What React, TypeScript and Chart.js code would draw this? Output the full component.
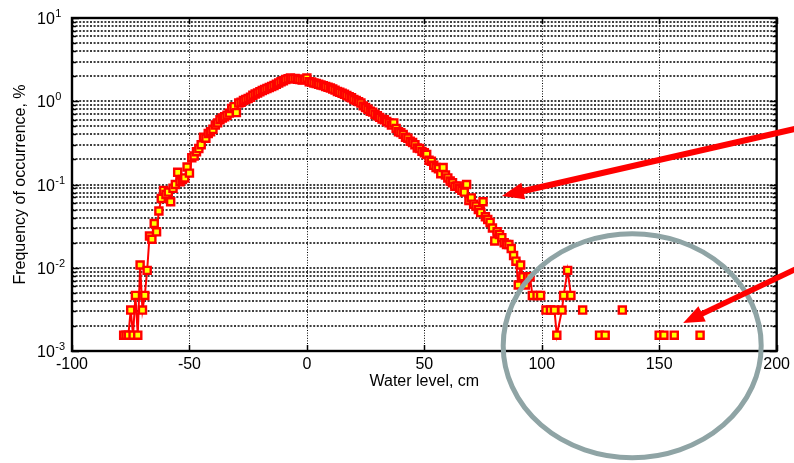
import React, { useEffect, useRef } from 'react';
import { Chart, registerables } from 'chart.js';

Chart.register(...registerables);

// ---- data (water level in cm, frequency of occurrence in %) ----
const waterLevel: number[] = [
  -78, -77, -76, -75, -74, -73, -72, -71, -70, -69, -68, -67, -66, -65, -64, -63, -62, -61, -60, -59,
  -58, -57, -56, -55, -54, -53, -52, -51, -50, -49, -48, -47, -46, -45, -44, -43, -42, -41, -40, -39,
  -38, -37, -36, -35, -34, -33, -32, -31, -30, -29, -28, -27, -26, -25, -24, -23, -22, -21, -20, -19,
  -18, -17, -16, -15, -14, -13, -12, -11, -10, -9, -8, -7, -6, -5, -4, -3, -2, -1, 0, 1,
  2, 3, 4, 5, 6, 7, 8, 9, 10, 11, 12, 13, 14, 15, 16, 17, 18, 19, 20, 21,
  22, 23, 24, 25, 26, 27, 28, 29, 30, 31, 32, 33, 34, 35, 36, 37, 38, 39, 40, 41,
  42, 43, 44, 45, 46, 47, 48, 49, 50, 51, 52, 53, 54, 55, 56, 57, 58, 59, 60, 61,
  62, 63, 64, 65, 66, 67, 68, 69, 70, 71, 72, 73, 74, 75, 76, 77, 78, 79, 80, 81,
  82, 83, 84, 85, 86, 87, 88, 89, 90, 91, 92, 93, 94, 95, 96, 98, 99.5,
  100.7, 101.8, 103.7, 105.4, 106.4, 108.6, 109.3, 111, 112.4,
  115, 117.4, 120, 124.6, 125.8, 127, 130, 134.3, 140, 150, 151, 152, 154, 156.4, 160, 167.4,
];

const frequency: (number | null)[] = [
  0.00155, 0.00155, 0.00155, 0.0031, 0.00155, 0.00465, 0.00155, 0.0108, 0.0031, 0.00465, 0.0093, 0.024, 0.022, 0.034, 0.027, 0.048, 0.068, 0.085, 0.076, 0.081,
  0.062, 0.09, 0.1, 0.14, 0.108, 0.115, 0.12, 0.162, 0.137, 0.21, 0.22, 0.248, 0.27, 0.3, 0.37, 0.36, 0.41, 0.43, 0.46, 0.52,
  0.55, 0.6, 0.63, 0.65, 0.68, 0.72, 0.82, 0.86, 0.73, 0.95, 0.97, 1.02, 1.05, 1.08, 1.12, 1.18, 1.22, 1.26, 1.3, 1.35,
  1.38, 1.42, 1.46, 1.5, 1.55, 1.6, 1.66, 1.72, 1.76, 1.82, 1.86, 1.9, 1.87, 1.88, 1.84, 1.82, 1.8, 1.82, 1.9, 1.72,
  1.7, 1.66, 1.63, 1.6, 1.57, 1.54, 1.5, 1.47, 1.44, 1.4, 1.36, 1.31, 1.28, 1.25, 1.21, 1.17, 1.13, 1.1, 1.05, 1.02,
  0.99, 0.95, 0.88, 0.84, 0.8, 0.76, 0.74, 0.7, 0.67, 0.64, 0.61, 0.6, 0.57, 0.55, 0.52, 0.55, 0.47, 0.43, 0.42, 0.4,
  0.37, 0.36, 0.33, 0.32, 0.3, 0.275, 0.27, 0.25, 0.24, 0.23, 0.195, 0.19, 0.17, 0.16, 0.155, 0.135, 0.16, 0.13, 0.12, 0.11,
  0.105, 0.095, 0.096, 0.09, 0.085, 0.081, 0.1, 0.064, 0.069, 0.058, 0.055, 0.05, 0.046, 0.062, 0.041, 0.038, 0.035, 0.03, 0.021, 0.027,
  0.025, 0.023, 0.02, 0.019, 0.019, 0.017, 0.014, 0.012, 0.0062, 0.0108, 0.0078, 0.0062, 0.0078, 0.0078, 0.00465, 0.00465, 0.00465,
  null, 0.0031, 0.0031, 0.0031, 0.00155, 0.0031, 0.00465, 0.0093, 0.00465,
  null, 0.0031, null, 0.00155, null, 0.00155, null, 0.0031, null, 0.00155, null, 0.00155, null, 0.00155, null, 0.00155,
];

const xTickValues = [-100, -50, 0, 50, 100, 150, 200];
const yDecadeExponents = [-3, -2, -1, 0, 1];
const yMinorMultipliers = [2, 3, 4, 5, 6, 7, 8, 9];
const xAxisTitle = 'Water level, cm';
const yAxisTitle = 'Frequency of occurrence, %';

// annotations, anchored in data coordinates
const arrowA = { tail: { x: 208.5, y: 0.471 }, tip: { x: 83.0, y: 0.0728 }, shaft: 6, headLen: 22, headWid: 17 };
const arrowB = { tail: { x: 208.5, y: 0.00975 }, tip: { x: 160.2, y: 0.00217 }, shaft: 5.5, headLen: 21, headWid: 17 };
const ring = { x: 138.5, y: 0.00116, rx: 129, ry: 112, width: 5, color: '#8fa4a5' };

const FONT = '"Liberation Sans", Arial, Helvetica, sans-serif';

function drawArrow(ctx: CanvasRenderingContext2D, x1: number, y1: number, x2: number, y2: number,
  shaft: number, headLen: number, headWid: number) {
  const dx = x2 - x1, dy = y2 - y1;
  const len = Math.hypot(dx, dy);
  const ux = dx / len, uy = dy / len;
  const nx = -uy, ny = ux;
  const bx = x2 - ux * headLen, by = y2 - uy * headLen;
  ctx.strokeStyle = '#ff0000';
  ctx.fillStyle = '#ff0000';
  ctx.lineWidth = shaft;
  ctx.lineCap = 'butt';
  ctx.setLineDash([]);
  ctx.beginPath();
  ctx.moveTo(x1, y1);
  ctx.lineTo(bx + ux * 1, by + uy * 1);
  ctx.stroke();
  ctx.beginPath();
  ctx.moveTo(x2, y2);
  ctx.lineTo(bx + nx * headWid / 2, by + ny * headWid / 2);
  ctx.lineTo(bx - nx * headWid / 2, by - ny * headWid / 2);
  ctx.closePath();
  ctx.fill();
}

const matlabLook = {
  id: 'matlabLook',
  beforeDatasetsDraw(chart: any) {
    const { ctx, chartArea: { left, right, top, bottom }, scales: { x, y } } = chart;
    ctx.save();
    // horizontal dotted grid (decades and minor)
    ctx.strokeStyle = '#000';
    ctx.lineWidth = 1.6;
    ctx.setLineDash([2, 1.6]);
    for (const e of yDecadeExponents) {
      const vals = [1, ...yMinorMultipliers].map((m) => m * Math.pow(10, e));
      for (const v of vals) {
        if (v <= y.min * 1.0001 || v >= y.max * 0.9999) continue;
        const py = Math.round(y.getPixelForValue(v));
        ctx.beginPath();
        ctx.moveTo(left, py);
        ctx.lineTo(right, py);
        ctx.stroke();
      }
    }
    // vertical dotted grid
    ctx.setLineDash([1, 1.6]);
    ctx.lineWidth = 1;
    ctx.strokeStyle = '#000';
    for (const v of xTickValues) {
      if (v <= x.min || v >= x.max) continue;
      const px = Math.round(x.getPixelForValue(v)) + 0.5;
      ctx.beginPath();
      ctx.moveTo(px, top);
      ctx.lineTo(px, bottom);
      ctx.stroke();
    }
    ctx.restore();
  },
  afterDatasetsDraw(chart: any) {
    const { ctx, chartArea: { left, right, top, bottom }, scales: { x, y } } = chart;
    ctx.save();
    ctx.setLineDash([]);
    ctx.strokeStyle = '#000';
    // inner tick marks
    ctx.lineWidth = 1.5;
    for (const v of xTickValues) {
      const px = Math.round(x.getPixelForValue(v)) + 0.5;
      ctx.beginPath();
      ctx.moveTo(px, bottom); ctx.lineTo(px, bottom - 6);
      ctx.moveTo(px, top); ctx.lineTo(px, top + 6);
      ctx.stroke();
    }
    for (const e of yDecadeExponents) {
      [1, ...yMinorMultipliers].forEach((m) => {
        const v = m * Math.pow(10, e);
        if (v < y.min * 0.9999 || v > y.max * 1.0001) return;
        const py = Math.round(y.getPixelForValue(v)) + 0.5;
        const len = m === 1 ? 7 : 4;
        ctx.beginPath();
        ctx.moveTo(left, py); ctx.lineTo(left + len, py);
        ctx.moveTo(right, py); ctx.lineTo(right - len, py);
        ctx.stroke();
      });
    }
    // frame
    ctx.lineWidth = 2.4;
    ctx.strokeRect(left, top, right - left, bottom - top);
    // y tick labels: 10 with superscript exponent
    ctx.fillStyle = '#000';
    ctx.textAlign = 'left';
    ctx.textBaseline = 'alphabetic';
    for (const e of yDecadeExponents) {
      const py = y.getPixelForValue(Math.pow(10, e));
      ctx.font = `16px ${FONT}`;
      const lx = left - 35;
      ctx.fillText('10', lx, py + 6);
      const w = ctx.measureText('10').width;
      ctx.font = `11px ${FONT}`;
      ctx.fillText(String(e), lx + w + 0.5, py - 1);
    }
    ctx.restore();
  },
  afterDraw(chart: any) {
    const { ctx, scales: { x, y } } = chart;
    ctx.save();
    // grey ring
    ctx.strokeStyle = ring.color;
    ctx.lineWidth = ring.width;
    ctx.setLineDash([]);
    ctx.beginPath();
    ctx.ellipse(x.getPixelForValue(ring.x), y.getPixelForValue(ring.y), ring.rx, ring.ry, 0, 0, Math.PI * 2);
    ctx.stroke();
    // red arrows
    for (const a of [arrowA, arrowB]) {
      drawArrow(ctx,
        x.getPixelForValue(a.tail.x), y.getPixelForValue(a.tail.y),
        x.getPixelForValue(a.tip.x), y.getPixelForValue(a.tip.y),
        a.shaft, a.headLen, a.headWid);
    }
    ctx.restore();
  },
};

export default function App() {
  const canvasRef = useRef<HTMLCanvasElement | null>(null);

  useEffect(() => {
    if (!canvasRef.current) return;
    const points = waterLevel.map((w, i) => ({ x: w, y: frequency[i] }));
    const chart = new Chart(canvasRef.current, {
      type: 'line',
      data: {
        datasets: [
          {
            data: points as any,
            borderColor: '#ff0000',
            borderWidth: 2,
            pointStyle: 'rect',
            pointRadius: 5,
            pointBorderWidth: 2.4,
            pointBackgroundColor: '#ffff00',
            pointBorderColor: '#ff0000',
            spanGaps: false,
            tension: 0,
          },
        ],
      },
      options: {
        responsive: false,
        animation: false,
        devicePixelRatio: 1,
        layout: { padding: { top: 18, right: 14, left: 0, bottom: 0 } },
        plugins: { legend: { display: false }, tooltip: { enabled: false } },
        scales: {
          x: {
            type: 'linear',
            min: -100,
            max: 200,
            afterBuildTicks: (s: any) => {
              s.ticks = xTickValues.map((v) => ({ value: v }));
            },
            afterFit: (s: any) => {
              s.height = 112;
            },
            ticks: {
              autoSkip: false,
              maxRotation: 0,
              color: '#000',
              padding: 4,
              font: { family: FONT, size: 16 },
            },
            grid: { display: false, drawTicks: false },
            border: { display: false },
            title: {
              display: true,
              text: xAxisTitle,
              color: '#000',
              font: { family: FONT, size: 16 },
              padding: { top: 0, bottom: 72 },
            },
          },
          y: {
            type: 'logarithmic',
            min: 0.001,
            max: 10,
            afterFit: (s: any) => {
              s.width = 72;
            },
            ticks: { display: false },
            grid: { display: false, drawTicks: false },
            border: { display: false },
            title: {
              display: true,
              text: yAxisTitle,
              color: '#000',
              font: { family: FONT, size: 16 },
              padding: { top: 11, bottom: 0 },
            },
          },
        },
      },
      plugins: [matlabLook],
    });
    return () => chart.destroy();
  }, []);

  return (
    <div style={{ position: 'absolute', left: 0, top: 0, width: 794, height: 463, background: '#fff' }}>
      <canvas ref={canvasRef} width={794} height={463} />
    </div>
  );
}
